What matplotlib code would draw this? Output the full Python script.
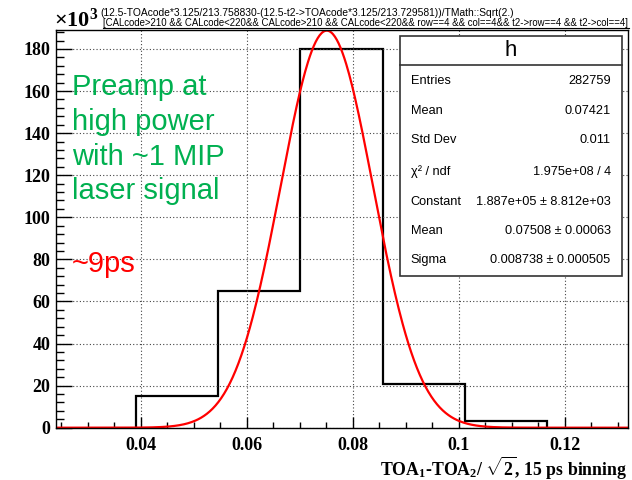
import numpy as np
import matplotlib
matplotlib.use('Agg')
import matplotlib.pyplot as plt
from matplotlib.patches import Rectangle
from matplotlib.lines import Line2D
from matplotlib.ticker import MultipleLocator

# histogram (counts in units of 10^3)
bin_edges = [0.0391, 0.0546, 0.0701, 0.0856, 0.1011, 0.1166]
counts = [15, 65, 180, 21, 3]

# gaussian fit parameters
fit_const = 188.7
fit_mean = 0.07508
fit_sigma = 0.008738

stat_labels = ['Entries', 'Mean', 'Std Dev', '\u03c7\u00b2 / ndf', 'Constant', 'Mean', 'Sigma']
stat_values = ['282759', '0.07421', '0.011', '1.975e+08 / 4',
               '1.887e+05 \u00b1 8.812e+03', '0.07508 \u00b1 0.00063',
               '0.008738 \u00b1 0.000505']

title1 = '(12.5-TOAcode*3.125/213.758830-(12.5-t2->TOAcode*3.125/213.729581))/TMath::Sqrt(2.)'
title2 = '[CALcode>210 && CALcode<220&& CALcode>210 && CALcode<220&& row==4 && col==4&& t2->row==4 && t2->col==4]'

note_lines = ['Preamp at', 'high power', 'with ~1 MIP', 'laser signal']

plt.rcParams['mathtext.fontset'] = 'custom'
plt.rcParams['mathtext.rm'] = 'Liberation Serif:bold'
plt.rcParams['mathtext.bf'] = 'Liberation Serif:bold'
plt.rcParams['mathtext.it'] = 'Liberation Serif:bold:italic'

W, H = 632, 480
fig = plt.figure(figsize=(W / 100, H / 100), dpi=100)


def fx(px):
    return px / W


def fy(py):
    return 1 - py / H


ax = fig.add_axes([fx(56), fy(427.7), fx(628) - fx(56), fy(30) - fy(427.7)])
ax.set_xlim(0.024, 0.1319)
ax.set_ylim(0, 189)

ax.stairs(counts, bin_edges, color='black', linewidth=1.6)
xs = np.linspace(0.024, 0.1319, 600)
ax.plot(xs, fit_const * np.exp(-0.5 * ((xs - fit_mean) / fit_sigma) ** 2),
        color='#ff0000', linewidth=1.6)

ax.xaxis.set_major_locator(MultipleLocator(0.02))
ax.xaxis.set_minor_locator(MultipleLocator(0.005))
ax.yaxis.set_major_locator(MultipleLocator(20))
ax.yaxis.set_minor_locator(MultipleLocator(4))
ax.grid(True, which='major', linestyle=(0, (1, 2)), color='#444444', linewidth=0.8)
ax.tick_params(axis='x', which='major', direction='in', length=8, width=1, pad=7)
ax.tick_params(axis='x', which='minor', direction='in', length=4, width=1)
ax.tick_params(axis='y', which='major', direction='in', length=11.5, width=1, pad=4)
ax.tick_params(axis='y', which='minor', direction='in', length=5.8, width=1)
ax.set_xticks([0.04, 0.06, 0.08, 0.1, 0.12])
ax.set_xticklabels(['0.04', '0.06', '0.08', '0.1', '0.12'])
for lab in ax.get_xticklabels() + ax.get_yticklabels():
    lab.set_fontfamily('Liberation Serif')
    lab.set_fontweight('bold')
    lab.set_fontsize(13)
for sp in ax.spines.values():
    sp.set_linewidth(1)

fig.text(fx(627), fy(468), r'TOA$_1$-TOA$_2$/ $\sqrt{2}$, 15 ps binning',
         ha='right', va='center', fontsize=12.8, family='Liberation Serif', weight='bold')
fig.text(fx(54), fy(27), r'$\times$10$^3$', ha='left', va='baseline', fontsize=16,
         family='Liberation Serif', weight='bold')

fig.text(fx(100), fy(13), title1, ha='left', va='center', fontsize=7.4,
         family='Liberation Sans')
fig.text(fx(103), fy(23), title2, ha='left', va='center', fontsize=6.9,
         family='Liberation Sans')
fig.add_artist(Line2D([fx(103), fx(629)], [fy(27.5), fy(27.5)], color='black', linewidth=0.8))

# annotations
for line, base in zip(note_lines, [95, 129.8, 164.6, 199.4]):
    fig.text(fx(72), fy(base), line, ha='left', va='baseline', fontsize=21,
             family='Liberation Sans', color='#00b050')
fig.text(fx(72), fy(272), '~9ps', ha='left', va='baseline', fontsize=21,
         family='Liberation Sans', color='#ff0000')

# stats box
box_l, box_r, box_t, box_b = 400, 622, 36, 276
fig.add_artist(Rectangle((fx(box_l), fy(box_b)), fx(box_r) - fx(box_l), fy(box_t) - fy(box_b),
                         facecolor='white', edgecolor='#333333', linewidth=1.2, zorder=5))
fig.add_artist(Line2D([fx(box_l), fx(box_r)], [fy(65), fy(65)], color='#333333',
                      linewidth=1.2, zorder=6))
fig.text(fx((box_l + box_r) / 2), fy(51), 'h', ha='center', va='center', fontsize=16,
         family='Liberation Sans', zorder=7)
row_y = [80.7, 111, 140, 171.7, 201.7, 231, 260]
for lbl, val, yy in zip(stat_labels, stat_values, row_y):
    fig.text(fx(410.7), fy(yy), lbl, ha='left', va='center', fontsize=9.2,
             family='Liberation Sans', zorder=7)
    fig.text(fx(610.7), fy(yy), val, ha='right', va='center', fontsize=9.2,
             family='Liberation Sans', zorder=7)

fig.savefig('out.png', dpi=100)
